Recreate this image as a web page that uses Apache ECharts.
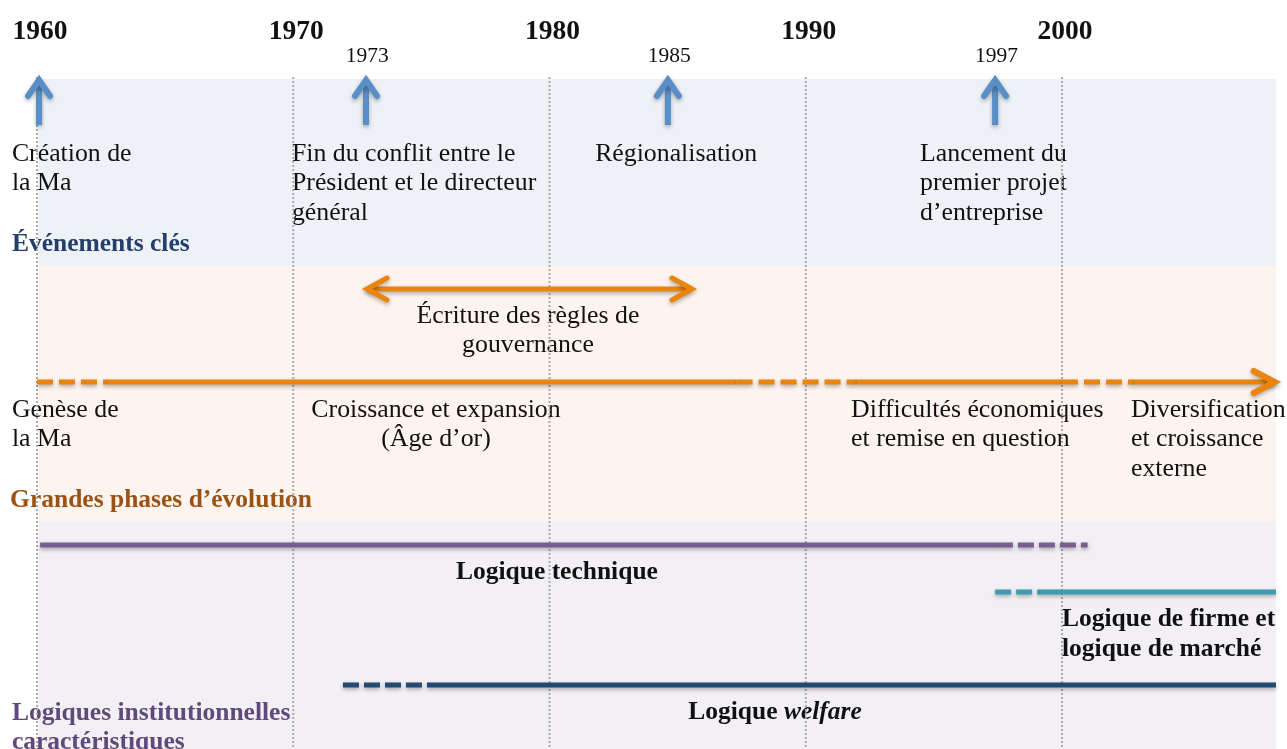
<!DOCTYPE html>
<html>
<head>
<meta charset="utf-8">
<script src="https://cdn.jsdelivr.net/npm/echarts@6/dist/echarts.min.js"></script>
<style>
html, body { margin: 0; padding: 0; background: #fff; }
#c1 { width: 1287px; height: 749px; }
</style>
</head>
<body>
<div id="c1"></div>
<script>
// ---- data (years) ----
var decades = [1960, 1970, 1980, 1990, 2000];
var eventYears = [1960.08, 1972.84, 1984.62, 1997.39];
var eventYearLabels = ['', '1973', '1985', '1997'];
var eventLabels = ['Création de\nla Ma', 'Fin du conflit entre le\nPrésident et le directeur\ngénéral', 'Régionalisation', 'Lancement du\npremier projet\nd’entreprise'];
var eventLabelYears = [1959.02, 1969.95, 1984.94, 1994.46];
var eventLabelAlign = ['left', 'left', 'center', 'left'];

var governanceSpan = [1972.88, 1985.56];
var governanceLabel = 'Écriture des règles de\ngouvernance';
var governanceLabelYear = 1979.16;

// phases line: breaks, every piece dashed or solid
var phaseBreaks = [1960, 1962.8, 1987.3, 1992.0, 2000.0, 2002.85, 2008.3];
var phaseDashed = [true, false, true, false, true, false];
var phaseLabels = ['Genèse de\nla Ma', 'Croissance et expansion\n(Âge d’or)', 'Difficultés économiques\net remise en question', 'Diversification\net croissance\nexterne'];
var phaseLabelYears = [1959.02, 1975.57, 1991.77, 2002.69];
var phaseLabelAlign = ['left', 'center', 'left', 'left'];

var techBreaks = [1960.12, 1997.46, 2001.0];
var techDashed = [false, true];
var firmBreaks = [1997.39, 1999.14, 2008.35];
var firmDashed = [true, false];
var welfareBreaks = [1971.94, 1975.53, 2008.35];
var welfareDashed = [true, false];

var bandSpan = [1960.04, 2008.35];
var titles = ['Événements clés', 'Grandes phases d’évolution', 'Logiques institutionnelles\ncaractéristiques'];
var titleYears = [1959.02, 1958.95, 1959.02];

// ---- layout (rows in px from top) ----
var ROW = {
    decade: 32, subYear: 56, arrowTip: 80, arrowTail: 125, eventText: 139,
    title1: 244, gov: 289, govText: 301, phase: 382, phaseText: 395, title2: 500,
    tech: 545, techText: 572, firm: 592, firmText: 604, welfare: 685, welfareText: 712, title3: 699,
    grid0: 77, bottom: 749
};
var bands = [
    { y0: 79, y1: 266, color: '#EEF2F7' },
    { y0: 266, y1: 521, color: '#FDF4EF' },
    { y0: 521, y1: 749, color: '#F2F0F5' }
];
var FONT = '"Liberation Serif", "Times New Roman", serif';
var SHADOW = { shadowBlur: 4, shadowOffsetY: 2, shadowColor: 'rgba(0,0,0,0.32)' };
var ORANGE = '#E9840F', BLUE = '#5A8EC6', PURPLE = '#77608F', TEAL = '#3F9CAE', NAVY = '#214B74';

// segments
var segs = [];
function addSegs(breaks, dashed, y, color, dash) {
    for (var i = 0; i < dashed.length; i++) {
        segs.push({ from: breaks[i], to: breaks[i + 1], y: y, dash: dashed[i] ? dash : null, color: color });
    }
}
addSegs(phaseBreaks, phaseDashed, ROW.phase, ORANGE, [16, 6]);
addSegs(techBreaks, techDashed, ROW.tech, PURPLE, [16, 5]);
addSegs(firmBreaks, firmDashed, ROW.firm, TEAL, [16, 5]);
addSegs(welfareBreaks, welfareDashed, ROW.welfare, NAVY, [16, 5]);

// arrows
var arrows = [];
eventYears.forEach(function (y) {
    arrows.push({ p0: [y, ROW.arrowTail], p1: [y, ROW.arrowTip], head0: false, head1: true, color: BLUE, depth: 16, half: 11, w: 6 });
});
arrows.push({ p0: [governanceSpan[0], ROW.gov], p1: [governanceSpan[1], ROW.gov], head0: true, head1: true, color: ORANGE, depth: 20, half: 11, w: 5 });
arrows.push({ p0: [phaseBreaks[phaseBreaks.length - 1] - 0.3, ROW.phase], p1: [phaseBreaks[phaseBreaks.length - 1], ROW.phase], head0: false, head1: true, color: ORANGE, depth: 21, half: 11, w: 6 });

// texts
var texts = [];
function addText(year, y, text, opt) {
    texts.push(Object.assign({ year: year, y: y, text: text, size: 25.8, weight: 'normal', fill: '#111', align: 'left', vAlign: 'top', lh: 29.5 }, opt || {}));
}
decades.forEach(function (d) {
    addText(d + 0.12, ROW.decade, String(d), { size: 27.5, weight: 'bold', align: 'center', vAlign: 'middle' });
});
eventYears.forEach(function (y, i) {
    if (eventYearLabels[i]) addText(y + 0.05, ROW.subYear, eventYearLabels[i], { size: 21.5, align: 'center', vAlign: 'middle' });
});
eventLabels.forEach(function (t, i) {
    addText(eventLabelYears[i], ROW.eventText, t, { align: eventLabelAlign[i] });
});
addText(governanceLabelYear, ROW.govText, governanceLabel, { align: 'center' });
phaseLabels.forEach(function (t, i) {
    addText(phaseLabelYears[i], ROW.phaseText, t, { align: phaseLabelAlign[i] });
});
addText(titleYears[0], ROW.title1, titles[0], { size: 25.5, weight: 'bold', fill: '#24406A', vAlign: 'middle' });
addText(titleYears[1], ROW.title2, titles[1], { size: 25.5, weight: 'bold', fill: '#9C5213', vAlign: 'middle' });
addText(titleYears[2], ROW.title3, titles[2], { size: 25.5, weight: 'bold', fill: '#5F4A7B', lh: 29 });
addText(1980.29, ROW.techText, 'Logique technique', { size: 25.5, weight: 'bold', align: 'center', vAlign: 'middle' });
addText(2000.0, ROW.firmText, 'Logique de firme et\nlogique de marché', { size: 25.5, weight: 'bold', lh: 30 });
addText(1988.8, ROW.welfareText, '{b|Logique }{i|welfare}', { size: 25.5, weight: 'bold', align: 'center', vAlign: 'middle', rich: true });

function head(tip, dir, depth, half) {
    var px = -dir[1], py = dir[0];
    return [
        [tip[0] - dir[0] * depth + px * half, tip[1] - dir[1] * depth + py * half],
        tip,
        [tip[0] - dir[0] * depth - px * half, tip[1] - dir[1] * depth - py * half]
    ];
}

var option = {
    animation: false,
    grid: { left: 0, right: 0, top: 0, bottom: 0 },
    xAxis: { type: 'value', min: 1960 - 37 / 25.625, max: 1960 - 37 / 25.625 + 1287 / 25.625, show: false },
    yAxis: { type: 'value', inverse: true, min: 0, max: 749, show: false },
    series: [
        {
            type: 'custom', z: 1, silent: true,
            data: bands.map(function (b) { return [bandSpan[0], b.y0]; }),
            renderItem: function (params, api) {
                var b = bands[params.dataIndex];
                var p0 = api.coord([bandSpan[0], b.y0]), p1 = api.coord([bandSpan[1], b.y1]);
                return { type: 'rect', shape: { x: p0[0], y: p0[1], width: p1[0] - p0[0], height: p1[1] - p0[1] }, style: { fill: b.color } };
            }
        },
        {
            type: 'custom', z: 3, silent: true,
            data: texts.map(function (t) { return [t.year, t.y]; }),
            renderItem: function (params, api) {
                var t = texts[params.dataIndex];
                var p = api.coord([t.year, t.y]);
                var style = {
                    text: t.text, fill: t.fill, fontFamily: FONT, fontSize: t.size, fontWeight: t.weight,
                    align: t.align, verticalAlign: t.vAlign, lineHeight: t.lh
                };
                if (t.rich) {
                    style.rich = {
                        b: { fontFamily: FONT, fontSize: t.size, fontWeight: 'bold', fill: t.fill },
                        i: { fontFamily: FONT, fontSize: t.size, fontWeight: 'bold', fontStyle: 'italic', fill: t.fill }
                    };
                }
                return { type: 'text', x: p[0], y: p[1], style: style };
            }
        },
        {
            type: 'custom', z: 4, silent: true,
            data: decades.map(function (d) { return [d, ROW.grid0]; }),
            renderItem: function (params, api) {
                var d = decades[params.dataIndex];
                var p0 = api.coord([d, ROW.grid0]), p1 = api.coord([d, ROW.bottom]);
                return { type: 'line', shape: { x1: p0[0], y1: p0[1], x2: p1[0], y2: p1[1] }, style: { stroke: '#ABABAB', lineWidth: 2, lineDash: [2, 2] } };
            }
        },
        {
            type: 'custom', z: 5, silent: true,
            data: segs.map(function (s) { return [s.from, s.y]; }),
            renderItem: function (params, api) {
                var s = segs[params.dataIndex];
                var p0 = api.coord([s.from, s.y]), p1 = api.coord([s.to, s.y]);
                return {
                    type: 'line', shape: { x1: p0[0], y1: p0[1], x2: p1[0], y2: p1[1] },
                    style: Object.assign({ stroke: s.color, lineWidth: 5, lineDash: s.dash }, SHADOW)
                };
            }
        },
        {
            type: 'custom', z: 6, silent: true,
            data: arrows.map(function (a) { return a.p0; }),
            renderItem: function (params, api) {
                var a = arrows[params.dataIndex];
                var p0 = api.coord(a.p0), p1 = api.coord(a.p1);
                var dx = p1[0] - p0[0], dy = p1[1] - p0[1], len = Math.sqrt(dx * dx + dy * dy);
                var dir = [dx / len, dy / len];
                var st = Object.assign({ stroke: a.color, lineWidth: a.w, fill: null, lineJoin: 'miter', lineCap: 'round' }, SHADOW);
                var lineSt = Object.assign({}, st, { lineCap: 'butt' });
                var children = [{ type: 'line', shape: { x1: p0[0], y1: p0[1], x2: p1[0] - dir[0] * 3, y2: p1[1] - dir[1] * 3 }, style: lineSt }];
                if (a.head1) children.push({ type: 'polyline', shape: { points: head(p1, dir, a.depth, a.half) }, style: st });
                if (a.head0) children.push({ type: 'polyline', shape: { points: head(p0, [-dir[0], -dir[1]], a.depth, a.half) }, style: st });
                return { type: 'group', children: children };
            }
        }
    ]
};

var myChart = echarts.init(document.getElementById('c1'));
myChart.setOption(option, true);
</script>
</body>
</html>
